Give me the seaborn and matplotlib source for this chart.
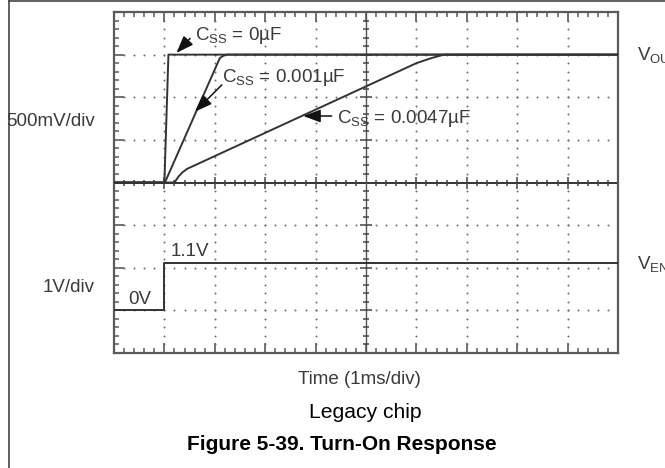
import numpy as np
import pandas as pd
import matplotlib
matplotlib.use("Agg")
import matplotlib.pyplot as plt
from matplotlib.lines import Line2D
import seaborn as sns

# ---- trace data (time in ms, voltage in V) ----
time_css0 = [0.0, 1.0, 1.08, 10.0]
vout_css0 = [0.0, 0.0, 1.5, 1.5]

time_css1 = [0.0, 1.01, 2.10, 2.18, 2.24, 10.0]
vout_css1 = [0.0, 0.0, 1.46, 1.49, 1.5, 1.5]

time_css47 = [0.0, 1.20, 1.28, 1.36, 1.45, 6.00, 6.30, 6.55, 10.0]
vout_css47 = [0.0, 0.0, 0.07, 0.12, 0.16, 1.40, 1.46, 1.50, 1.50]

time_en = [0.0, 1.0, 1.0, 10.0]
v_en = [0.0, 0.0, 1.1, 1.1]

css_labels = ["0\u00b5F", "0.001\u00b5F", "0.0047\u00b5F"]

# ---- style ----
sns.set_style("white")
plt.rcParams["font.family"] = ["Liberation Sans", "DejaVu Sans"]
plt.rcParams["mathtext.fontset"] = "custom"
plt.rcParams["mathtext.rm"] = "Liberation Sans"
plt.rcParams["mathtext.it"] = "Liberation Sans:italic"
plt.rcParams["mathtext.bf"] = "Liberation Sans:bold"

W, H = 665, 468
fig = plt.figure(figsize=(W / 100, H / 100), dpi=100)
fig.patch.set_facecolor("white")

# graticule box (pixels: x 114..618, y 12..353)
x0, x1, y0, y1 = 114, 618, 12, 353
ax = fig.add_axes([x0 / W, 1 - y1 / H, (x1 - x0) / W, (y1 - y0) / H])
ax.set_xlim(0, 10)          # 1 ms/div, 10 div
ax.set_ylim(-2.0, 2.0)      # 500 mV/div, 8 div
ax.set_facecolor("white")

trace_col = "#333333"
grid_col = "#6a6a6a"
frame_col = "#5a5a5a"

for s in ax.spines.values():
    s.set_color(frame_col)
    s.set_linewidth(1.6)

ax.xaxis.set_major_locator(plt.MultipleLocator(1.0))
ax.xaxis.set_minor_locator(plt.MultipleLocator(0.2))
ax.yaxis.set_major_locator(plt.MultipleLocator(0.5))
ax.yaxis.set_minor_locator(plt.MultipleLocator(0.1))
ax.tick_params(which="both", direction="in", top=True, right=True,
               bottom=True, left=True, labelbottom=False, labelleft=False,
               color=frame_col)
ax.tick_params(which="major", length=7, width=1.2)
ax.tick_params(which="minor", length=3.8, width=1.1)

# dotted graticule lines
dot_kw = dict(ls="none", marker="o", ms=1.4, color=grid_col, mec="none", zorder=1)
yy = np.arange(-2.0, 2.001, 0.1)
for gx in [1, 2, 3, 4, 6, 7, 8, 9]:
    ax.plot(np.full_like(yy, gx), yy, **dot_kw)
xx = np.arange(0, 10.001, 0.2)
for gy in [-1.5, -1.0, -0.5, 0.5, 1.0, 1.5]:
    ax.plot(xx, np.full_like(xx, gy), **dot_kw)

# center cross with tick ladders
ax.axhline(0, color=trace_col, lw=1.4, zorder=2)
ax.axvline(5, color="#555555", lw=1.0, zorder=2)
xm = np.arange(0.2, 10, 0.2)
minor_x = [v for v in xm if abs(v - round(v)) > 1e-6]
major_x = [v for v in range(1, 10) if v != 5]
ax.plot(minor_x, np.zeros(len(minor_x)), ls="none", marker="|", ms=4.5,
        mew=1.1, color="#444444", zorder=2)
ax.plot(major_x, np.zeros(len(major_x)), ls="none", marker="|", ms=8.5,
        mew=1.1, color="#444444", zorder=2)
ym = np.arange(-1.9, 2.0, 0.1)
minor_y = [v for v in ym if abs(v * 2 - round(v * 2)) > 1e-6]
major_y = [v for v in np.arange(-1.5, 1.51, 0.5) if abs(v) > 1e-6]
ax.plot(np.full(len(minor_y), 5.0), minor_y, ls="none", marker="_", ms=5,
        mew=1.1, color="#444444", zorder=2)
ax.plot(np.full(len(major_y), 5.0), major_y, ls="none", marker="_", ms=8,
        mew=1.1, color="#444444", zorder=2)

# ---- V_OUT traces ----
vout_df = pd.concat([
    pd.DataFrame({"t": time_css0, "v": vout_css0, "css": css_labels[0]}),
    pd.DataFrame({"t": time_css1, "v": vout_css1, "css": css_labels[1]}),
    pd.DataFrame({"t": time_css47, "v": vout_css47, "css": css_labels[2]}),
])
sns.lineplot(data=vout_df, x="t", y="v", units="css", estimator=None,
             sort=False, color=trace_col, lw=1.4, ax=ax, legend=False, zorder=3)

# ---- V_EN trace on its own 1 V/div scale ----
ax2 = ax.twinx()
ax2.set_ylim(-1.0, 7.0)
ax2.set_yticks([])
ax2.axis("off")
en_df = pd.DataFrame({"t": time_en, "v": v_en})
sns.lineplot(data=en_df, x="t", y="v", estimator=None, sort=False,
             color=trace_col, lw=1.4, ax=ax2, legend=False)
ax2.set_xlim(0, 10)

ax.set_xlabel("")
ax.set_ylabel("")
ax2.set_ylabel("")

# ---- annotations ----
lab_col = "#3a3a3a"
fs = 13.5
arrow_kw = dict(arrowstyle="-|>,head_length=0.75,head_width=0.28",
                color="#111111", lw=1.1, shrinkA=0, shrinkB=0, mutation_scale=14)

ax.annotate("", xy=(1.24, 1.52), xytext=(1.51, 1.69), arrowprops=arrow_kw, zorder=5)
ax.text(1.61, 1.672, r"C$_{\mathrm{SS}}$ = " + css_labels[0], fontsize=fs,
        color=lab_col, ha="left", va="baseline")

ax.annotate("", xy=(1.607, 0.831), xytext=(2.14, 1.145), arrowprops=arrow_kw, zorder=5)
ax.text(2.14, 1.18, r"C$_{\mathrm{SS}}$ = " + css_labels[1], fontsize=fs,
        color=lab_col, ha="left", va="baseline")

ax.annotate("", xy=(3.756, 0.78), xytext=(4.32, 0.78), arrowprops=arrow_kw, zorder=5)
ax.text(4.42, 0.698, r"C$_{\mathrm{SS}}$ = " + css_labels[2], fontsize=fs,
        color=lab_col, ha="left", va="baseline")

ax2.text(0.278, 0.157, "0V", fontsize=fs, color=lab_col, ha="left", va="baseline")
ax2.text(1.13, 1.27, "1.1V", fontsize=fs, color=lab_col, ha="left", va="baseline")

# ---- labels around the graticule ----
fig.text(95 / W, 1 - 122 / H, "500mV/div", fontsize=fs, color=lab_col,
         ha="right", va="center")
fig.text(95 / W, 1 - 288 / H, "1V/div", fontsize=fs, color=lab_col,
         ha="right", va="center")
fig.text(637 / W, 1 - 60 / H, r"V$_{\mathrm{OUT}}$", fontsize=fs, color=lab_col,
         ha="left", va="baseline")
fig.text(637 / W, 1 - 269 / H, r"V$_{\mathrm{EN}}$", fontsize=fs, color=lab_col,
         ha="left", va="baseline")
fig.text(359 / W, 1 - 379 / H, "Time (1ms/div)", fontsize=fs, color=lab_col,
         ha="center", va="center")
fig.text(365 / W, 1 - 413 / H, "Legacy chip", fontsize=15.2, color="black",
         ha="center", va="center")
fig.text(342 / W, 1 - 445 / H, "Figure 5-39. Turn-On Response", fontsize=15,
         fontweight="bold", color="black", ha="center", va="center")

# page frame (left and top edges)
fig.add_artist(Line2D([9 / W, 9 / W], [0, 1], color="#444444", lw=1.2))
fig.add_artist(Line2D([9 / W, 1], [1 - 1 / H, 1 - 1 / H], color="#444444", lw=1.2))

fig.savefig("out.png", dpi=100, facecolor="white")
